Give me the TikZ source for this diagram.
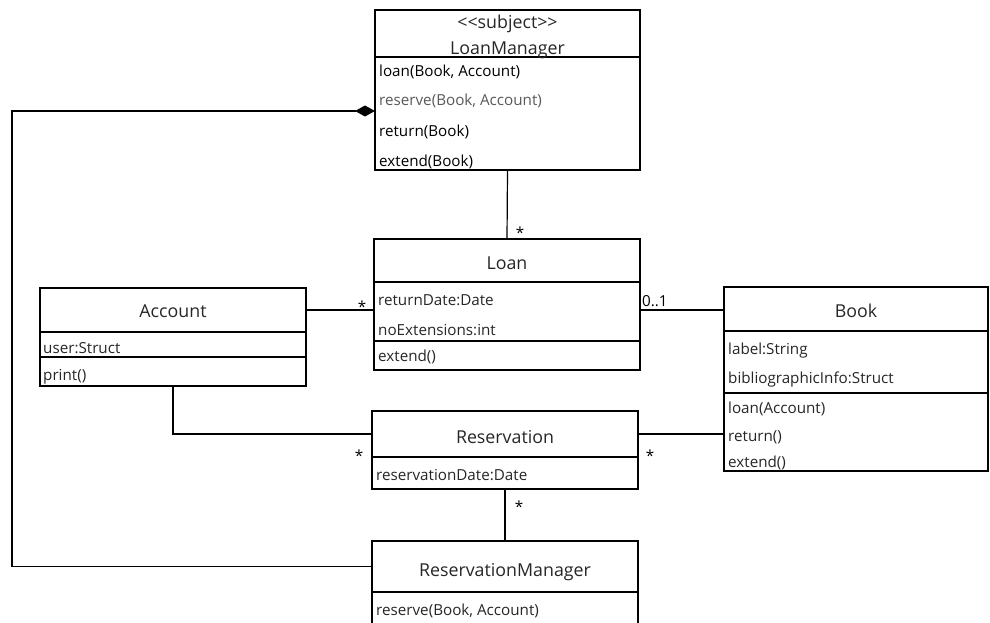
\documentclass[tikz,border=0pt]{standalone}
\usepackage{fontspec}
\setmainfont{Open Sans}
\usetikzlibrary{arrows.meta,calc}

\newcommand{\clstitlefont}{\fontsize{17.8}{20}\selectfont}
\newcommand{\clsrowfont}{\fontsize{15.2}{17}\selectfont}

\tikzset{
  part/.style={draw, line width=1.2pt, rectangle, anchor=north west,
               inner sep=0pt, outer sep=0pt},
  ttl/.style={anchor=base, font=\clstitlefont, text=black!85, inner sep=0pt},
  row/.style={anchor=base west, font=\clsrowfont, text=black!85, inner sep=0pt},
  mult/.style={anchor=base, font=\clsrowfont, text=black, inner sep=0pt},
  link/.style={line width=1.2pt},
}

\begin{document}
\begin{tikzpicture}[x=1pt, y=-1pt]
\useasboundingbox (0,0) rectangle (990,623);
\clip (0,0) rectangle (990,623);

% ---------- LoanManager ----------
\node[part, minimum width=265pt, minimum height=47pt]  (lmt) at (375,10) {};
\node[part, minimum width=265pt, minimum height=113pt] (lmo) at (375,57) {};
\node[ttl] (lm-s) at (507.5,29) {<{}<subject>{}>};
\node[ttl] (lm-n) at (507.5,55) {LoanManager};
\node[row, text=black]    (lm-o1) at (379,77)  {loan(Book, Account)};
\node[row, text=black!65] (lm-o2) at (379,106) {reserve(Book, Account)};
\node[row, text=black]    (lm-o3) at (379,136) {return(Book)};
\node[row, text=black]    (lm-o4) at (379,166) {extend(Book)};

% ---------- Loan ----------
\node[part, minimum width=266pt, minimum height=43pt] (lnt) at (374,239) {};
\node[part, minimum width=266pt, minimum height=59pt] (lna) at (374,282) {};
\node[part, minimum width=266pt, minimum height=29pt] (lno) at (374,341) {};
\node[ttl] (ln-n) at (507,269) {Loan};
\node[row] (ln-a1) at (378,305) {returnDate:Date};
\node[row] (ln-a2) at (378,335) {noExtensions:int};
\node[row] (ln-o1) at (378,361) {extend()};

% ---------- Account ----------
\node[part, minimum width=266pt, minimum height=44pt] (act) at (40,288) {};
\node[part, minimum width=266pt, minimum height=25pt] (aca) at (40,332) {};
\node[part, minimum width=266pt, minimum height=29pt] (aco) at (40,357) {};
\node[ttl] (ac-n) at (173,317) {Account};
\node[row] (ac-a1) at (43,353) {user:Struct};
\node[row] (ac-o1) at (43,380) {print()};

% ---------- Book ----------
\node[part, minimum width=264pt, minimum height=44pt] (bkt) at (724,287) {};
\node[part, minimum width=264pt, minimum height=62pt] (bka) at (724,331) {};
\node[part, minimum width=264pt, minimum height=78pt] (bko) at (724,393) {};
\node[ttl] (bk-n) at (856,317) {Book};
\node[row] (bk-a1) at (728,354) {label:String};
\node[row] (bk-a2) at (728,383) {bibliographicInfo:Struct};
\node[row] (bk-o1) at (728,413) {loan(Account)};
\node[row] (bk-o2) at (728,441) {return()};
\node[row] (bk-o3) at (728,467) {extend()};

% ---------- Reservation ----------
\node[part, minimum width=266pt, minimum height=46pt] (rst) at (372,411) {};
\node[part, minimum width=266pt, minimum height=32pt] (rsa) at (372,457) {};
\node[ttl] (rs-n) at (505,443) {Reservation};
\node[row] (rs-a1) at (376,480) {reservationDate:Date};

% ---------- ReservationManager ----------
\node[part, minimum width=266pt, minimum height=51pt] (rmt) at (372,541) {};
\node[part, minimum width=266pt, minimum height=60pt] (rmo) at (372,592) {};
\node[ttl] (rm-n) at (505,576) {ReservationManager};
\node[row] (rm-o1) at (376,615) {reserve(Book, Account)};

% ---------- associations ----------
\coordinate (bendlow) at (12,569);
\coordinate (bendtop) at (12,111);

\draw[link] (lmo.south) -- (lnt.north);
\draw[link] (act.east) -- (act.east -| lna.west);
\draw[link] (act.east -| lna.east) -- (act.east -| bkt.west);
\draw[link] (aco.south) |- (rst.west);
\draw[link] (rst.east) -- (rst.east -| bko.west);
\draw[link] (rsa.south) -- (rmt.north);
\draw[link, -{Diamond[length=20pt, width=11pt]}]
  (rmt.west) -- (rmt.west -| bendlow) -- (bendtop) -- (bendtop -| lmo.west);

% ---------- multiplicities ----------
\node[mult] (m1) at (520,238) {*};
\node[mult] (m2) at (362,312) {*};
\node[mult] (m3) at (359,461) {*};
\node[mult] (m4) at (650,461) {*};
\node[mult] (m5) at (519,512) {*};
\node[mult, anchor=base west] (m6) at (642,306) {0..1};
\end{tikzpicture}
\end{document}
